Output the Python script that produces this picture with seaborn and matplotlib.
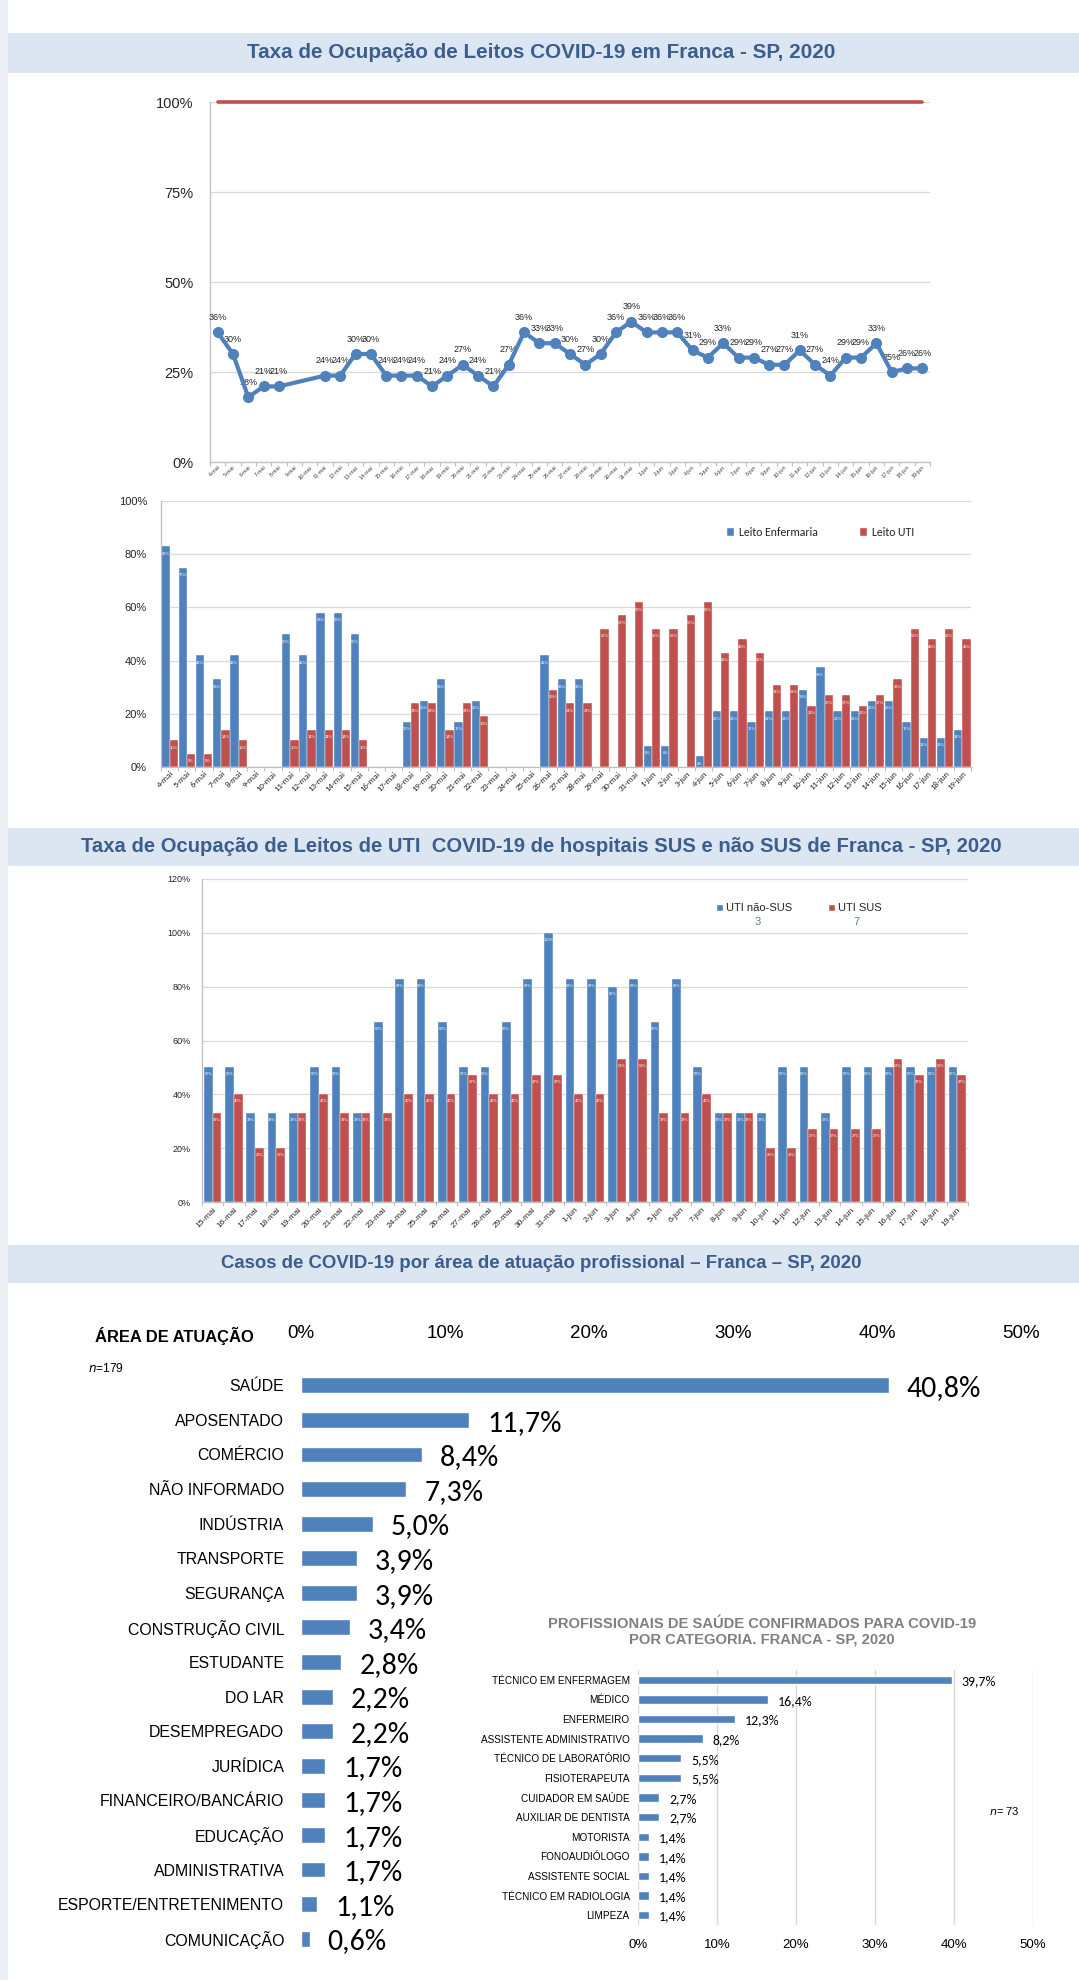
import numpy as np
import pandas as pd
import matplotlib
matplotlib.use("Agg")
import matplotlib.pyplot as plt
import seaborn as sns
from matplotlib import font_manager as fm
from matplotlib.patches import Rectangle, Patch
from matplotlib.ticker import FixedLocator

# ---------------- DATA ----------------
dates_1 = [f"{d}-mai" for d in range(4, 32)] + [f"{d}-jun" for d in range(1, 20)]
ocupacao = [36, 30, 18, 21, 21, None, None, 24, 24, 30, 30, 24, 24, 24, 21, 24, 27, 24, 21, 27,
            36, 33, 33, 30, 27, 30, 36, 39,
            36, 36, 36, 31, 29, 33, 29, 29, 27, 27, 31, 27, 24, 29, 29, 33, 25, 26, 26]
capacidade = [100] * len(dates_1)

leito_enf = [83, 75, 42, 33, 42, None, None, 50, 42, 58, 58, 50, None, None, 17, 25, 33, 17, 25,
             None, None, None, 42, 33, 33, None, None, None,
             8, 8, None, 4, 21, 21, 17, 21, 21, 29, 37.5, 21, 21, 25, 25, 17, 11, 11, 14]
leito_uti = [10, 5, 5, 14, 10, None, None, 10, 14, 14, 14, 10, None, None, 24, 24, 14, 24, 19,
             None, None, None, 29, 24, 24, 52, 57, 62,
             52, 52, 57, 62, 43, 48, 43, 31, 31, 23, 27, 27, 23, 27, 33, 52, 48, 52, 48]

dates_3 = [f"{d}-mai" for d in range(15, 32)] + [f"{d}-jun" for d in range(1, 20)]
uti_nao_sus = [50, 50, 33, 33, 33, 50, 50, 33, 67, 83, 83, 67, 50, 50, 67, 83, 100,
               83, 83, 80, 83, 67, 83, 50, 33, 33, 33, 50, 50, 33, 50, 50, 50, 50, 50, 50]
uti_sus = [33, 40, 20, 20, 33, 40, 33, 33, 33, 40, 40, 40, 47, 40, 40, 47, 47,
           40, 40, 53, 53, 33, 33, 40, 33, 33, 20, 20, 27, 27, 27, 27, 53, 47, 53, 47]
leitos_nao_sus = "3"
leitos_sus = "7"

areas = ["SAÚDE", "APOSENTADO", "COMÉRCIO", "NÃO INFORMADO", "INDÚSTRIA", "TRANSPORTE",
         "SEGURANÇA", "CONSTRUÇÃO CIVIL", "ESTUDANTE", "DO LAR", "DESEMPREGADO", "JURÍDICA",
         "FINANCEIRO/BANCÁRIO", "EDUCAÇÃO", "ADMINISTRATIVA", "ESPORTE/ENTRETENIMENTO", "COMUNICAÇÃO"]
areas_pct = [40.8, 11.7, 8.4, 7.3, 5.0, 3.9, 3.9, 3.4, 2.8, 2.2, 2.2, 1.7, 1.7, 1.7, 1.7, 1.1, 0.6]

saude_cat = ["TÉCNICO EM ENFERMAGEM", "MÉDICO", "ENFERMEIRO", "ASSISTENTE ADMINISTRATIVO",
             "TÉCNICO DE LABORATÓRIO", "FISIOTERAPEUTA", "CUIDADOR EM SAÚDE", "AUXILIAR DE DENTISTA",
             "MOTORISTA", "FONOAUDIÓLOGO", "ASSISTENTE SOCIAL", "TÉCNICO EM RADIOLOGIA", "LIMPEZA"]
saude_pct = [39.7, 16.4, 12.3, 8.2, 5.5, 5.5, 2.7, 2.7, 1.4, 1.4, 1.4, 1.4, 1.4]

# ---------------- STYLE ----------------
sns.set_theme(style="white")
names = {f.name for f in fm.fontManager.ttflist}
HAS_NARROW = "Liberation Sans Narrow" in names
NARROW = "Liberation Sans Narrow" if HAS_NARROW else "Liberation Sans"
NS = 1.0 if HAS_NARROW else 0.82
CAL = "Carlito" if "Carlito" in names else "Lato"
plt.rcParams["font.family"] = ["Liberation Sans", "DejaVu Sans"]

BLUE = "#4f81bd"
RED = "#c0504d"
GRID = "#d9d9d9"
SPINE = "#bfbfbf"
TITLE_C = "#3b5e8c"
BAND = "#dce6f2"

W, H = 1079, 1980
fig = plt.figure(figsize=(W / 100, H / 100), dpi=100)
fig.patch.set_facecolor("white")


def rect(x0, y0, x1, y1):
    return [x0 / W, 1 - y1 / H, (x1 - x0) / W, (y1 - y0) / H]


def fy(y):
    return 1 - y / H


fig.add_artist(Rectangle((0, 0), 8 / W, 1, transform=fig.transFigure,
                         facecolor="#eceff3", edgecolor="none", zorder=0))


def band(y0, y1, text, size):
    fig.add_artist(Rectangle((8 / W, fy(y1)), (W - 8) / W, (y1 - y0) / H,
                             transform=fig.transFigure, facecolor=BAND,
                             edgecolor="none", zorder=0))
    fig.text(541 / W, fy((y0 + y1) / 2), text, ha="center", va="center",
             fontsize=size / 0.82 * NS, fontweight="bold", color=TITLE_C,
             family=[NARROW, "DejaVu Sans"])


band(33, 73, "Taxa de Ocupação de Leitos COVID-19 em Franca - SP, 2020", 14.9)
band(828, 866, "Taxa de Ocupação de Leitos de UTI  COVID-19 de hospitais SUS e não SUS de Franca - SP, 2020", 14.6)
band(1245, 1283, "Casos de COVID-19 por área de atuação profissional – Franca – SP, 2020", 13.4)


def style_cat_axes(ax, n):
    for s in ["top", "right"]:
        ax.spines[s].set_visible(False)
    for s in ["left", "bottom"]:
        ax.spines[s].set_color(SPINE)
        ax.spines[s].set_linewidth(0.9)
    ax.yaxis.grid(True, color=GRID, lw=0.9)
    ax.set_axisbelow(True)
    ax.xaxis.set_minor_locator(FixedLocator(np.arange(-0.5, n, 1.0)))
    ax.tick_params(axis="x", which="minor", length=3, color=SPINE, width=0.8, bottom=True)
    ax.tick_params(axis="x", which="major", length=0)
    ax.tick_params(axis="y", length=0)
    ax.set_xlabel("")
    ax.set_ylabel("")


# ---------------- CHART 1 ----------------
ax1 = fig.add_axes(rect(210, 102, 930, 462))
n1 = len(dates_1)
df1 = pd.DataFrame({"x": np.arange(n1), "v": [np.nan if v is None else v / 100 for v in ocupacao]}).dropna()
dfc = pd.DataFrame({"x": np.arange(n1), "v": [c / 100 for c in capacidade]})
sns.lineplot(data=dfc, x="x", y="v", ax=ax1, color=RED, lw=2.6, zorder=3)
ax1.lines[-1].set_clip_on(False)
sns.lineplot(data=df1, x="x", y="v", ax=ax1, color=BLUE, lw=3, marker="o",
             markersize=8, markeredgewidth=0, zorder=4)
for xv, yv in zip(df1["x"], df1["v"]):
    ax1.annotate(f"{yv * 100:.0f}%", (xv, yv), xytext=(0, 7.5), textcoords="offset points",
                 ha="center", va="bottom", fontsize=6.5, color="#262626")
ax1.set_xlim(-0.5, n1 - 0.5)
ax1.set_ylim(0, 1.0)
ax1.set_yticks([0, 0.25, 0.5, 0.75, 1.0])
ax1.set_yticklabels(["0%", "25%", "50%", "75%", "100%"], fontsize=10.5, color="#262626")
ax1.set_xticks(np.arange(n1))
ax1.set_xticklabels(dates_1, rotation=45, ha="right", rotation_mode="anchor",
                    fontsize=4, color="#404040")
style_cat_axes(ax1, n1)
ax1.tick_params(axis="y", pad=12)
ax1.tick_params(axis="x", which="major", pad=2)

# ---------------- CHART 2 ----------------
ax2 = fig.add_axes(rect(161, 501, 971, 767))
n2 = len(dates_1)
rows = []
for d, e, u in zip(dates_1, leito_enf, leito_uti):
    if e is not None:
        rows.append((d, "Leito Enfermaria", e / 100))
    if u is not None:
        rows.append((d, "Leito UTI", u / 100))
df2 = pd.DataFrame(rows, columns=["date", "serie", "v"])
sns.barplot(data=df2, x="date", y="v", hue="serie", order=dates_1,
            hue_order=["Leito Enfermaria", "Leito UTI"], palette=[BLUE, RED],
            width=0.96, gap=0, saturation=1, ax=ax2, legend=False,
            edgecolor="white", linewidth=0.3)
for p in ax2.patches:
    h = p.get_height()
    if h is not None and np.isfinite(h) and h > 0:
        ax2.annotate(f"{h * 100:.0f}%", (p.get_x() + p.get_width() / 2, h), xytext=(0, -5.5),
                     textcoords="offset points", ha="center", va="center",
                     fontsize=3, color="white")
ax2.set_xlim(-0.5, n2 - 0.5)
ax2.set_ylim(0, 1.0)
ax2.set_yticks(np.arange(0, 1.01, 0.2))
ax2.set_yticklabels([f"{int(round(t * 100))}%" for t in np.arange(0, 1.01, 0.2)],
                    fontsize=8, color="#262626")
ax2.set_xticks(np.arange(n2))
ax2.set_xticklabels(dates_1, rotation=45, ha="right", rotation_mode="anchor",
                    fontsize=6.3, color="#262626", family=[CAL, "DejaVu Sans"])
style_cat_axes(ax2, n2)
ax2.tick_params(axis="y", pad=10)
ax2.tick_params(axis="x", which="major", pad=2)
ax2.legend(handles=[Patch(facecolor=BLUE), Patch(facecolor=RED)],
           labels=["Leito Enfermaria", "Leito UTI"], loc="center",
           bbox_to_anchor=(820 / W, fy(532)), bbox_transform=fig.transFigure,
           ncol=2, frameon=False, prop={"family": [CAL, "DejaVu Sans"], "size": 8.5},
           handlelength=0.7, handleheight=0.7, handletextpad=0.4, columnspacing=3.5)

# ---------------- CHART 3 ----------------
ax3 = fig.add_axes(rect(202, 879, 968, 1202))
n3 = len(dates_3)
rows = []
for d, a, b in zip(dates_3, uti_nao_sus, uti_sus):
    rows.append((d, "UTI não-SUS", a / 100))
    rows.append((d, "UTI SUS", b / 100))
df3 = pd.DataFrame(rows, columns=["date", "serie", "v"])
sns.barplot(data=df3, x="date", y="v", hue="serie", order=dates_3,
            hue_order=["UTI não-SUS", "UTI SUS"], palette=[BLUE, RED],
            width=0.82, gap=0, saturation=1, ax=ax3, legend=False,
            edgecolor="white", linewidth=0.3)
for p in ax3.patches:
    h = p.get_height()
    if h is not None and np.isfinite(h) and h > 0:
        ax3.annotate(f"{h * 100:.0f}%", (p.get_x() + p.get_width() / 2, h), xytext=(0, -5),
                     textcoords="offset points", ha="center", va="center",
                     fontsize=2.8, color="white")
ax3.set_xlim(-0.5, n3 - 0.5)
ax3.set_ylim(0, 1.2)
ax3.set_yticks(np.arange(0, 1.21, 0.2))
ax3.set_yticklabels([f"{int(round(t * 100))}%" for t in np.arange(0, 1.21, 0.2)],
                    fontsize=6.5, color="#262626")
ax3.set_xticks(np.arange(n3))
ax3.set_xticklabels(dates_3, rotation=45, ha="right", rotation_mode="anchor",
                    fontsize=6, color="#262626")
style_cat_axes(ax3, n3)
ax3.tick_params(axis="y", pad=8)
ax3.tick_params(axis="x", which="major", pad=3)
ax3.legend(handles=[Patch(facecolor=BLUE), Patch(facecolor=RED)],
           labels=["UTI não-SUS", "UTI SUS"], loc="center",
           bbox_to_anchor=(799 / W, fy(908)), bbox_transform=fig.transFigure,
           ncol=2, frameon=False, prop={"size": 8},
           handlelength=0.6, handleheight=0.6, handletextpad=0.3, columnspacing=3.2)
fig.text(758 / W, fy(922), leitos_nao_sus, ha="center", va="center", fontsize=8, color="#5a7ca8")
fig.text(856 / W, fy(922), leitos_sus, ha="center", va="center", fontsize=8, color="#5a7ca8")

# ---------------- CHART 4 ----------------
ax4 = fig.add_axes(rect(301, 1368, 1021, 1956))
ax4.patch.set_alpha(0)
df4 = pd.DataFrame({"area": areas, "v": [v / 100 for v in areas_pct]})
sns.barplot(data=df4, x="v", y="area", orient="h", color=BLUE, width=0.46,
            saturation=1, ax=ax4)
for i, v in enumerate(df4["v"]):
    ax4.annotate(f"{v * 100:.1f}".replace(".", ",") + "%", (v, i), xytext=(13, -2),
                 textcoords="offset points", ha="left", va="center",
                 fontsize=21.5, color="black", family=[CAL, "DejaVu Sans"])
ax4.set_xlim(0, 0.5)
ax4.xaxis.tick_top()
ax4.set_xticks(np.arange(0, 0.51, 0.1))
ax4.set_xticklabels([f"{int(round(t * 100))}%" for t in np.arange(0, 0.51, 0.1)],
                    fontsize=16.5 * NS, family=[NARROW, "DejaVu Sans"], color="black")
ax4.tick_params(axis="x", length=0, pad=19)
ax4.tick_params(axis="y", length=0, pad=12)
for lab in ax4.get_yticklabels():
    lab.set_fontsize(14 * NS)
    lab.set_family([NARROW, "DejaVu Sans"])
    lab.set_color("black")
for s in ax4.spines.values():
    s.set_visible(False)
ax4.set_xlabel("")
ax4.set_ylabel("")
fig.text(95 / W, fy(1336), "ÁREA DE ATUAÇÃO", ha="left", va="center",
         fontsize=14.5 * NS, fontweight="bold", family=[NARROW, "DejaVu Sans"], color="black")
fig.text(88 / W, fy(1368), r"$\mathit{n}$=179", ha="left", va="center",
         fontsize=10.5 * NS, family=[NARROW, "DejaVu Sans"], color="black")

# ---------------- CHART 5 (inset) ----------------
fig.text(762 / W, fy(1632), "PROFISSIONAIS DE SAÚDE CONFIRMADOS PARA COVID-19\nPOR CATEGORIA. FRANCA - SP, 2020",
         ha="center", va="center", fontsize=10.6, fontweight="bold", color="#808080",
         linespacing=1.1)
ax5 = fig.add_axes(rect(638, 1670, 1033, 1925))
ax5.patch.set_alpha(0)
df5 = pd.DataFrame({"cat": saude_cat, "v": [v / 100 for v in saude_pct]})
sns.barplot(data=df5, x="v", y="cat", orient="h", color=BLUE, width=0.43,
            saturation=1, ax=ax5)
for i, v in enumerate(df5["v"]):
    ax5.annotate(f"{v * 100:.1f}".replace(".", ",") + "%", (v, i), xytext=(7, -1),
                 textcoords="offset points", ha="left", va="center",
                 fontsize=10, color="black", family=[CAL, "DejaVu Sans"])
ax5.set_xlim(0, 0.5)
ax5.set_xticks(np.arange(0, 0.51, 0.1))
ax5.set_xticklabels([f"{int(round(t * 100))}%" for t in np.arange(0, 0.51, 0.1)],
                    fontsize=9.5, color="black")
ax5.xaxis.grid(True, color=GRID, lw=1.0)
ax5.set_axisbelow(True)
ax5.tick_params(axis="x", length=0, pad=10)
ax5.tick_params(axis="y", length=0, pad=6)
for lab in ax5.get_yticklabels():
    lab.set_fontsize(8.8 * NS)
    lab.set_family([NARROW, "DejaVu Sans"])
    lab.set_color("black")
for s in ax5.spines.values():
    s.set_visible(False)
ax5.set_xlabel("")
ax5.set_ylabel("")
fig.text(989 / W, fy(1811), r"$\mathit{n}$= 73", ha="left", va="center",
         fontsize=8, color="black")

fig.savefig("out.png", dpi=100, facecolor="white")
